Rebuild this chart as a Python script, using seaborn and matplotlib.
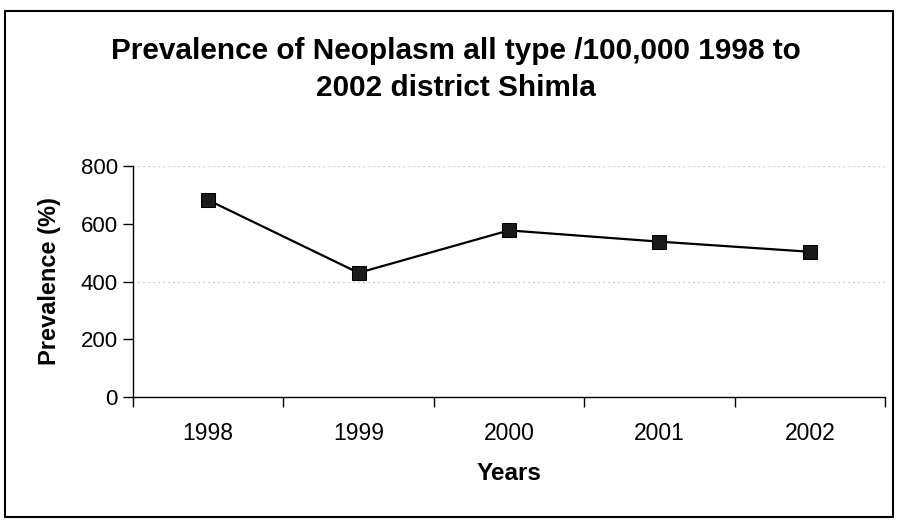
import matplotlib
matplotlib.use("Agg")
import matplotlib.pyplot as plt
from matplotlib.patches import Rectangle
from matplotlib.ticker import FixedLocator, NullFormatter
import seaborn as sns
import pandas as pd

years = ["1998", "1999", "2000", "2001", "2002"]
prevalence = [682, 430, 577, 538, 503]

sns.set_theme(style="white")
plt.rcParams["font.family"] = ["Liberation Sans", "DejaVu Sans"]
plt.rcParams["text.color"] = "black"
plt.rcParams["axes.labelcolor"] = "black"
plt.rcParams["xtick.color"] = "black"
plt.rcParams["ytick.color"] = "black"

df = pd.DataFrame({"pos": range(len(years)), "year": years, "prevalence": prevalence})

fig = plt.figure(figsize=(8.98, 5.2), dpi=100)
ax = fig.add_axes([0.148, 0.2365, 0.8375, 0.4443])

sns.lineplot(data=df, x="pos", y="prevalence", ax=ax, color="black",
             linewidth=1.6, marker="s", markersize=10, markeredgecolor="black",
             markerfacecolor="#1a1a1a")

ax.set_xlim(-0.5, len(years) - 0.5)
ax.set_ylim(0, 800)
ax.set_yticks([0, 200, 400, 600, 800])

# category labels centred, tick marks between categories
ax.set_xticks(range(len(years)))
ax.set_xticklabels(years)
ax.xaxis.set_minor_locator(FixedLocator([i - 0.5 for i in range(len(years) + 1)]))
ax.xaxis.set_minor_formatter(NullFormatter())
ax.tick_params(axis="x", which="major", bottom=True, length=0, pad=18, labelsize=16.5,
               labelcolor="black")
ax.tick_params(axis="x", which="minor", bottom=True, length=7, width=1, color="black",
               direction="out")
ax.tick_params(axis="y", which="major", left=True, length=7, width=1, color="black",
               direction="out", labelsize=16, pad=4, labelcolor="black")

for y in (400, 800):
    ax.axhline(y, color="#b0b0b0", linewidth=0.9, linestyle=(0, (1, 3)), zorder=0)

for side in ("top", "right"):
    ax.spines[side].set_visible(False)
for side in ("left", "bottom"):
    ax.spines[side].set_color("black")
    ax.spines[side].set_linewidth(1)

ax.set_xlabel("Years", fontsize=17.5, fontweight="bold", labelpad=12, color="black")
ax.set_ylabel("Prevalence (%)", fontsize=17, fontweight="bold", labelpad=14, color="black")

fig.text(0.508, 0.866, "Prevalence of Neoplasm all type /100,000 1998 to\n2002 district Shimla",
         ha="center", va="center", fontsize=21.4, fontweight="bold", linespacing=1.4,
         color="black")

fig.patches.append(Rectangle((0.0056, 0.006), 0.9888, 0.973, transform=fig.transFigure,
                             fill=False, edgecolor="black", linewidth=1.5))

fig.savefig("out.png", dpi=100, facecolor="white")
